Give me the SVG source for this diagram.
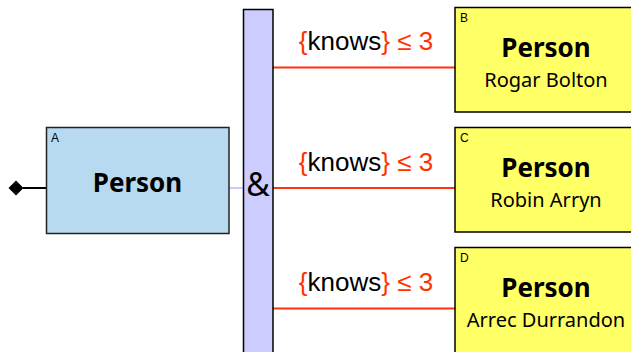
<svg xmlns="http://www.w3.org/2000/svg" width="631" height="352" viewBox="0 0 631 352">
<style>
.blue{fill:#b8daf0;stroke:#222;stroke-width:1.5}
.yel{fill:#ffff66;stroke:#000;stroke-width:1.5}
.bar{fill:#ccccff;stroke:#000;stroke-width:1.5}
.title{font-family:"Noto Sans","Open Sans",sans-serif;font-weight:bold;font-size:26px;text-anchor:middle;fill:#000}
.sub{font-family:"Noto Sans","Open Sans",sans-serif;font-size:20px;text-anchor:middle;fill:#000}
.tag{font-family:"Liberation Sans",Arial,sans-serif;font-size:12px;fill:#000}
.lbl{font-family:"Liberation Sans",Arial,sans-serif;font-size:26px;text-anchor:middle;fill:#ff3300}
.red{stroke:#ff3311;stroke-width:2;fill:none}
</style>
<g id="connectors">
<line x1="23" y1="188" x2="46" y2="188" stroke="#000" stroke-width="2"/>
<path d="M8.5,188 L16,180.5 L23.5,188 L16,195.5 Z" fill="#000"/>
<line x1="229" y1="188" x2="243" y2="188" stroke="#ccccff" stroke-width="2"/>
<line class="red" x1="273" y1="67.5" x2="455" y2="67.5"/>
<line class="red" x1="273" y1="188" x2="455" y2="188"/>
<line class="red" x1="273" y1="308.5" x2="455" y2="308.5"/>
<text class="lbl" x="366" y="50">{<tspan fill="#000">knows</tspan>} ≤ 3</text>
<text class="lbl" x="366" y="171">{<tspan fill="#000">knows</tspan>} ≤ 3</text>
<text class="lbl" x="366" y="291">{<tspan fill="#000">knows</tspan>} ≤ 3</text>
</g>
<g id="and">
<rect class="bar" x="243.5" y="9.5" width="29.5" height="350"/>
<text x="258" y="196" font-family="'Noto Sans','Open Sans',sans-serif" font-size="32" text-anchor="middle" fill="#000">&amp;</text>
</g>
<g id="A">
<rect class="blue" x="46.5" y="127.5" width="182.5" height="106"/>
<text class="tag" x="51" y="142">A</text>
<text class="title" x="137.5" y="192">Person</text>
</g>
<g id="B">
<rect class="yel" x="455" y="7.5" width="185" height="104.5"/>
<text class="tag" x="460" y="22">B</text>
<text class="title" x="546" y="57">Person</text>
<text class="sub" x="546" y="87">Rogar Bolton</text>
</g>
<g id="C">
<rect class="yel" x="455" y="127.5" width="185" height="104.5"/>
<text class="tag" x="460" y="142">C</text>
<text class="title" x="546" y="177">Person</text>
<text class="sub" x="546" y="207">Robin Arryn</text>
</g>
<g id="D">
<rect class="yel" x="455" y="247.5" width="185" height="110"/>
<text class="tag" x="460" y="262">D</text>
<text class="title" x="546" y="297">Person</text>
<text class="sub" x="546" y="327">Arrec Durrandon</text>
</g>
</svg>
